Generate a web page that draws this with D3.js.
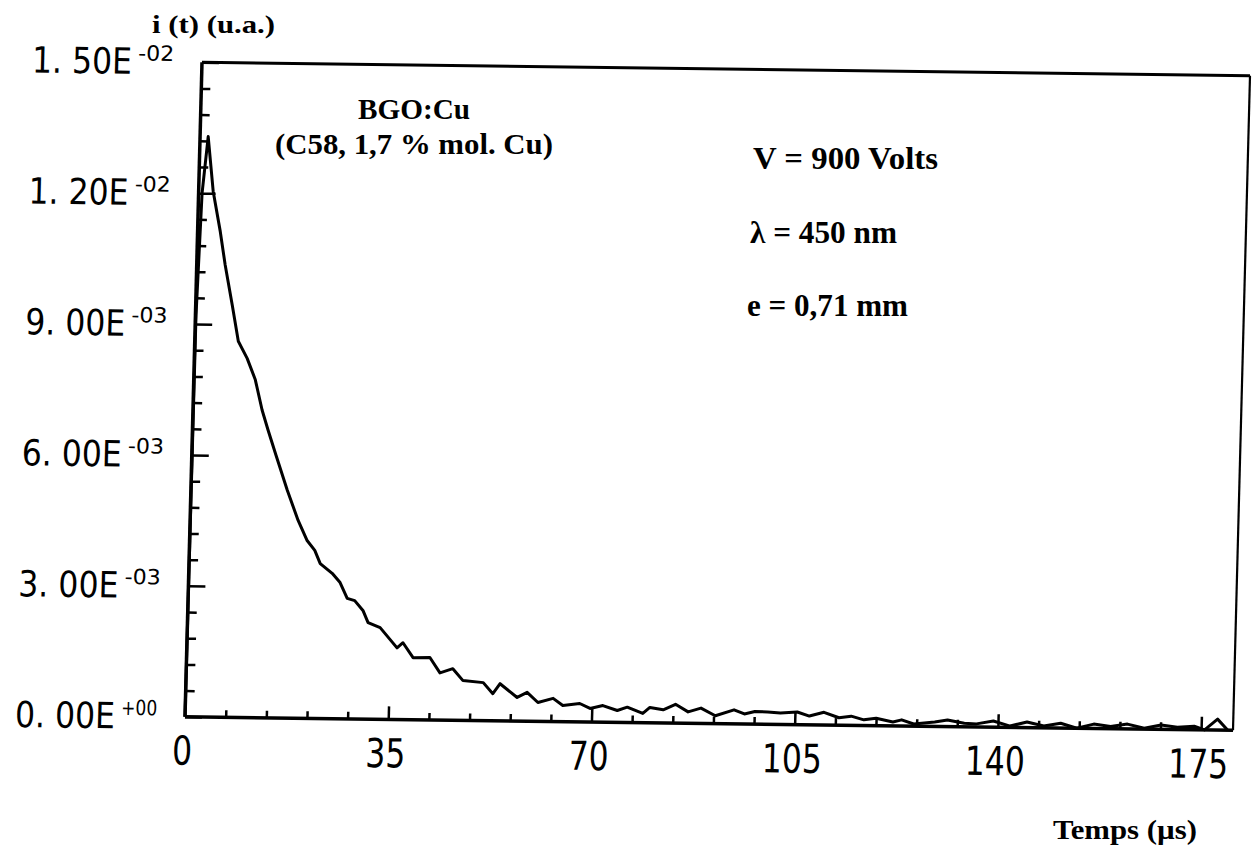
<!DOCTYPE html>
<html><head><meta charset="utf-8">
<script src="https://cdn.jsdelivr.net/npm/d3@7"></script>
<style>html,body{margin:0;padding:0;background:#fff}</style>
</head><body><svg id="c" width="1256" height="860"></svg>
<script>
// ---- data ----
const time = [0,0.1,0.6,1.4,2.5,3.9,4.9,6.3,7.5,9.1,10.6,11.9,13.0,14.5,16.6,18.6,20.2,21.6,22.6,24.7,26.1,27.4,28.7,30.2,31.1,33.2,36.2,37.2,39.0,41.9,43.7,45.9,47.7,51.2,52.9,54.1,57.1,58.8,60.7,63.3,65.0,67.9,69.7,71.9,74.4,76.1,78.8,80.0,82.3,84.4,86.6,88.8,91.3,94.5,96.3,98.1,100.3,102.5,105.4,107.5,110,112.6,114.7,116.9,119,121.9,123.4,125.5,129.1,131.3,134.2,136.3,139.2,142.1,145,147.9,150.8,153.6,156.5,159.4,162.3,165.2,168.1,170.9,173.8,175.6,177.8,179.6];
const current_e3 = [0,9.2,12.0,13.3,12.05,11.13,10.36,9.44,8.62,8.23,7.74,7.05,6.6,6.02,5.22,4.53,4.08,3.85,3.55,3.33,3.12,2.76,2.71,2.48,2.21,2.10,1.64,1.76,1.42,1.43,1.08,1.18,0.91,0.87,0.62,0.85,0.54,0.66,0.43,0.53,0.37,0.42,0.31,0.38,0.27,0.35,0.21,0.35,0.30,0.43,0.26,0.35,0.18,0.32,0.23,0.29,0.28,0.26,0.29,0.20,0.29,0.17,0.21,0.13,0.17,0.09,0.14,0.05,0.10,0.15,0.08,0.07,0.14,0.03,0.13,0.04,0.11,0.0,0.10,0.05,0.11,0.02,0.10,0.05,0.08,0.0,0.25,0.0];
const xTicks = [0,35,70,105,140,175];
const xTickLabels = ["0","35","70","105","140","175"];
const yTicks = [0,0.003,0.006,0.009,0.012,0.015];
const yTickMantissa = ["0. 00E","3. 00E","6. 00E","9. 00E","1. 20E","1. 50E"];
const yTickExponent = ["+00","-03","-03","-03","-02","-02"];
const yLabel = "i (t) (u.a.)";
const xLabel = "Temps (\u00b5s)";
const notes = ["BGO:Cu","(C58, 1,7 % mol. Cu)","V = 900 Volts","\u03bb = 450 nm","e = 0,71 mm"];

// ---- layout ----
const W = 1048, H = 654.5;
const svg = d3.select("#c");
const g = svg.append("g").attr("transform","matrix(1,0.01288,-0.02597,1,202,62.25)");
const x = d3.scaleLinear().domain([0,180.5]).range([0,W]);
const y = d3.scaleLinear().domain([0,0.015]).range([H,0]);
const data = time.map((t,i)=>({t, v: current_e3[i]*1e-3}));

const tickFont = "'Liberation Sans Narrow','DejaVu Sans Condensed',sans-serif";
const serif = "'Liberation Serif','Times New Roman',serif";

// minor & major ticks (inward)
const yMinor = d3.range(0,0.0150001,0.0006).filter(v=>!yTicks.some(t=>Math.abs(t-v)<1e-9));
const xMinor = d3.range(0,180,7).filter(v=>v%35!==0);
function styleAxis(sel, w){ sel.select(".domain").remove(); sel.selectAll("line").attr("stroke","#000").attr("stroke-width",w); }
g.append("g").call(d3.axisLeft(y).tickValues(yTicks).tickSize(-17).tickFormat("")).call(s=>styleAxis(s,2.5));
g.append("g").call(d3.axisLeft(y).tickValues(yMinor).tickSize(-9).tickFormat("")).call(s=>styleAxis(s,2.5));
g.append("g").attr("transform",`translate(0,${H})`).call(d3.axisBottom(x).tickValues(xTicks.slice(1)).tickSize(-13).tickFormat("")).call(s=>styleAxis(s,2.5));
g.append("g").attr("transform",`translate(0,${H})`).call(d3.axisBottom(x).tickValues(xMinor).tickSize(-7).tickFormat("")).call(s=>styleAxis(s,2.5));

// frame
g.append("line").attr("x1",0).attr("y1",0).attr("x2",0).attr("y2",H).attr("stroke","#000").attr("stroke-width",3.5);
g.append("line").attr("x1",0).attr("y1",H).attr("x2",W).attr("y2",H).attr("stroke","#000").attr("stroke-width",3.5);
g.append("line").attr("x1",0).attr("y1",0).attr("x2",W).attr("y2",0).attr("stroke","#000").attr("stroke-width",3);
g.append("line").attr("x1",W).attr("y1",0).attr("x2",W).attr("y2",H).attr("stroke","#000").attr("stroke-width",2.2);

// curve
g.append("path").datum(data)
  .attr("d", d3.line().x(d=>x(d.t)).y(d=>y(d.v)))
  .attr("fill","none").attr("stroke","#000").attr("stroke-width",3).attr("stroke-linejoin","round");

// y tick labels
yTicks.forEach((v,i)=>{
  g.append("text").attr("x",-70).attr("y",y(v)+12.5).attr("text-anchor","end")
   .attr("font-family",tickFont).attr("font-size",36)
   .attr("textLength",100).attr("lengthAdjust","spacingAndGlyphs").text(yTickMantissa[i]);
  g.append("text").attr("x",-64).attr("y",y(v)-1)
   .attr("font-family",tickFont).attr("font-size",21)
   .attr("textLength",36).attr("lengthAdjust","spacingAndGlyphs").text(yTickExponent[i]);
});
// x tick labels
xTicks.forEach((v,i)=>{
  g.append("text").attr("x",x(v)-2).attr("y",H+48).attr("text-anchor","middle")
   .attr("font-family",tickFont).attr("font-size",40)
   .attr("textLength",20*xTickLabels[i].length).attr("lengthAdjust","spacingAndGlyphs").text(xTickLabels[i]);
});

// annotations (screen coordinates)
function serifText(s, x0, base, size, len){
  svg.append("text").attr("x",x0).attr("y",base).attr("font-family",serif).attr("font-weight","bold")
    .attr("font-size",size).attr("textLength",len).attr("lengthAdjust","spacingAndGlyphs").text(s);
}
serifText(yLabel,152,33,25,123);
serifText(notes[0],358,119,30,112);
serifText(notes[1],275,154,30,278);
serifText(notes[2],753,169,31,185);
serifText(notes[3],750,243,31,147);
serifText(notes[4],747,316,31,161);
serifText(xLabel,1053,839,28,144);
</script></body></html>
